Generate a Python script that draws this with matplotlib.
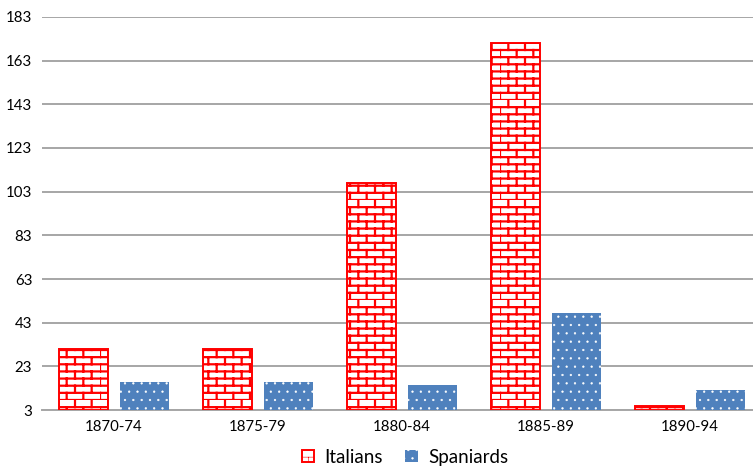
import warnings
import numpy as np
import matplotlib
matplotlib.use('Agg')
import matplotlib.pyplot as plt
import matplotlib.hatch as mhatch
from matplotlib.path import Path

warnings.filterwarnings('ignore')

periods = ['1870-74', '1875-79', '1880-84', '1885-89', '1890-94']
italians = [31, 31, 107, 171, 5]
spaniards = [16, 16, 14.5, 47.5, 12]
yticks = list(range(3, 184, 20))


# brick pattern for the hatch ('b')
class BrickHatch(mhatch.HatchPatternBase):
    def __init__(self, hatch, density):
        k = hatch.count('b')
        self.rows = 14 * k
        self.cols = 6 * k
        self.num_vertices = 2 * self.rows + 2 * self.rows * self.cols

    def set_vertices_and_codes(self, vertices, codes):
        n, m = self.rows, self.cols
        ys = np.arange(n) / n
        vertices[0:2 * n:2] = np.column_stack([np.zeros(n), ys])
        vertices[1:2 * n:2] = np.column_stack([np.ones(n), ys])
        codes[0:2 * n:2] = Path.MOVETO
        codes[1:2 * n:2] = Path.LINETO
        c = 2 * n
        for i in range(n):
            shift = 0.5 / m if i % 2 else 0.0
            for j in range(m):
                x = j / m + shift
                vertices[c] = (x, i / n)
                vertices[c + 1] = (x, (i + 1) / n)
                codes[c] = Path.MOVETO
                codes[c + 1] = Path.LINETO
                c += 2


mhatch._hatch_types.append(BrickHatch)

plt.rcParams['font.family'] = ['Lato', 'DejaVu Sans']

fig = plt.figure(figsize=(7.53, 4.68), dpi=100)
ax = fig.add_axes([0.0558, 0.1239, 0.9442, 0.8398])

x = np.arange(len(periods))
w = 0.34
plt.rcParams['hatch.linewidth'] = 1.6
ax.bar(x - 0.21, [v - 3 for v in italians], w, bottom=3, color='white',
       edgecolor='#FF0000', linewidth=1.4, hatch='b', label='Italians', zorder=3)
plt.rcParams['hatch.linewidth'] = 0.4
ax.bar(x + 0.21, [v - 3 for v in spaniards], w, bottom=3, color='#4F81BD',
       edgecolor='white', linewidth=0, hatch='..', label='Spaniards', zorder=3)

ax.set_xlim(-0.5, -0.5 + 711 / 144)
ax.set_ylim(3, 183)
ax.set_yticks(yticks)
ax.set_xticks(x)
ax.set_xticklabels(periods)
ax.tick_params(axis='both', length=0, labelsize=10.8, colors='#000000')
ax.tick_params(axis='y', pad=7)
ax.tick_params(axis='x', pad=7)
ax.grid(axis='y', color='#A6A6A6', linewidth=1.4, zorder=0)
for s in ['top', 'right', 'left']:
    ax.spines[s].set_visible(False)
ax.spines['bottom'].set_color('#A6A6A6')
ax.spines['bottom'].set_linewidth(1.4)

ax.legend(loc='center', bbox_to_anchor=(0.5105, -0.12), ncol=2, frameon=False,
          fontsize=13.5, handlelength=0.65, handleheight=0.65, handletextpad=0.55,
          columnspacing=1.2)

plt.savefig('out.png', dpi=100)
